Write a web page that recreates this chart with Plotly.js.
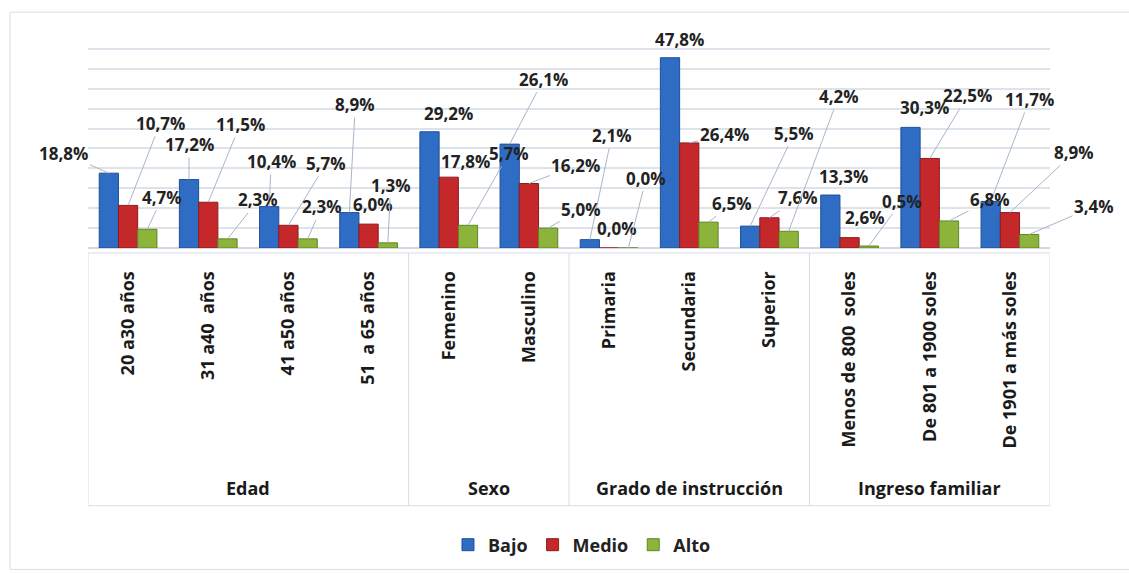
<!DOCTYPE html>
<html>
<head>
<meta charset="utf-8">
<script src="https://cdn.plot.ly/plotly-3.0.1.min.js"></script>
<style>html,body{margin:0;padding:0;background:#fff;}#chart{width:1129px;height:574px;}</style>
</head>
<body>
<div id="chart"></div>
<script>
// ---- data ----
const categories = ["20 a30 años", "31 a40  años", "41 a50 años", "51  a 65 años",
  "Femenino", "Masculino", "Primaria", "Secundaria", "Superior",
  "Menos de 800  soles", "De 801 a 1900 soles", "De 1901 a más soles"];
const groups = ["Edad", "Sexo", "Grado de instrucción", "Ingreso familiar"];
const groupSizes = [4, 2, 3, 3];
const seriesNames = ["Bajo", "Medio", "Alto"];
const bajo  = [18.8, 17.2, 10.4, 8.9, 29.2, 26.1, 2.1, 47.8, 5.5, 13.3, 30.3, 11.7];
const medio = [10.7, 11.5, 5.7, 6.0, 17.8, 16.2, 0.0, 26.4, 7.6, 2.6, 22.5, 8.9];
const alto  = [4.7, 2.3, 2.3, 1.3, 5.7, 5.0, 0.0, 6.5, 4.2, 0.5, 6.8, 3.4];

// ---- styling (label offsets in pixels, colours) ----
const colors = ["#2f6dc5", "#c4282b", "#8cb43b"];
const lineColors = ["#1f4f96", "#8e1b1d", "#62842a"];
const offBajo  = [[-45,-20],[0,-35],[2,-45],[6,-108],[19,-18],[34,-65],[22,-104],[9,-18],[44,-93],[13,-19],[14,-20],[39,-102]];
const offMedio = [[32,-82],[32,-78],[38,-62],[4,-20],[17,-16],[47,-18],[8,-20],[35,-8],[29,-20],[15,-20],[38,-63],[64,-60]];
const offAlto  = [[15,-32],[31,-39],[14,-32],[3,-57],[41,-72],[33,-19],[18,-70],[24,-19],[50,-135],[33,-45],[41,-21],[65,-28]];

const values = [bajo, medio, alto];
const offsets = [offBajo, offMedio, offAlto];
const FONT = "Open Sans, DejaVu Sans, sans-serif";

const traces = values.map((v, s) => ({
  type: "bar", name: seriesNames[s], x: categories, y: v,
  marker: {color: colors[s], line: {color: lineColors[s], width: 1}},
  hoverinfo: "x+y"
}));

const fmt = v => v.toFixed(1).replace(".", ",") + "%";
const annotations = [];
const bw = 0.24;
values.forEach((v, s) => {
  v.forEach((val, i) => {
    const [dx, dy] = offsets[s][i];
    const long = Math.hypot(dx, dy) > 30;
    annotations.push({
      x: i + (s - 1) * bw, y: val, xref: "x", yref: "y",
      text: fmt(val), showarrow: true, arrowhead: 0, arrowwidth: 1,
      arrowcolor: long ? "#a9b6c6" : "rgba(0,0,0,0)", ax: dx, ay: dy, standoff: 0,
      font: {family: FONT, size: 17, color: "#222", weight: "bold"}
    });
  });
});

// plot area: baseline at y=249px, 4px per percentage point
const plotH = 204;
const py = yPix => (249 - yPix) / plotH;

// group labels + divider shapes
const shapes = [];
const yBoxBottom = py(508);
let start = 0;
groups.forEach((g, k) => {
  const mid = start + (groupSizes[k] - 1) / 2;
  annotations.push({
    x: mid, y: py(490), xref: "x", yref: "paper", text: g, showarrow: false,
    font: {family: FONT, size: 18, color: "#1a1a1a", weight: "bold"}, yanchor: "middle"
  });
  start += groupSizes[k];
  if (k < groups.length - 1) {
    shapes.push({type: "line", xref: "x", yref: "paper", x0: start - 0.5, x1: start - 0.5,
      y0: py(254), y1: yBoxBottom, line: {color: "#d8dde4", width: 1}});
  }
});
shapes.push({type: "rect", xref: "x", yref: "paper", x0: -0.5, x1: categories.length - 0.5,
  y0: py(254), y1: yBoxBottom, line: {color: "#d8dde4", width: 1}, layer: "below"});
// outer chart border
shapes.push({type: "rect", xref: "paper", yref: "paper", x0: -0.081, x1: 1.2, y0: py(12), y1: py(572),
  line: {color: "#d5e0ea", width: 1}, layer: "below"});

const layout = {
  width: 1129, height: 574,
  margin: {l: 88, r: 79, t: 45, b: 325},
  paper_bgcolor: "#ffffff", plot_bgcolor: "#ffffff",
  barmode: "group", bargap: 0.28, bargroupgap: 0,
  showlegend: true,
  legend: {orientation: "h", x: 0.5135, xanchor: "center", y: py(545), yanchor: "middle",
    font: {family: FONT, size: 18, color: "#222", weight: "bold"}},
  xaxis: {type: "category", tickangle: -90, ticks: "outside", ticklen: 15,
    tickcolor: "rgba(0,0,0,0)", showgrid: false, showline: false,
    range: [-0.5, categories.length - 0.5],
    tickfont: {family: FONT, size: 18, color: "#1a1a1a", weight: "bold"}},
  yaxis: {range: [0, 51], dtick: 5, showticklabels: false, showgrid: true,
    gridcolor: "#dde3ea", gridwidth: 2, zeroline: true, zerolinecolor: "#d0d7e0", zerolinewidth: 2,
    showline: false, ticks: ""},
  annotations: annotations,
  shapes: shapes
};

Plotly.newPlot("chart", traces, layout, {displayModeBar: false, staticPlot: true});
</script>
</body>
</html>
